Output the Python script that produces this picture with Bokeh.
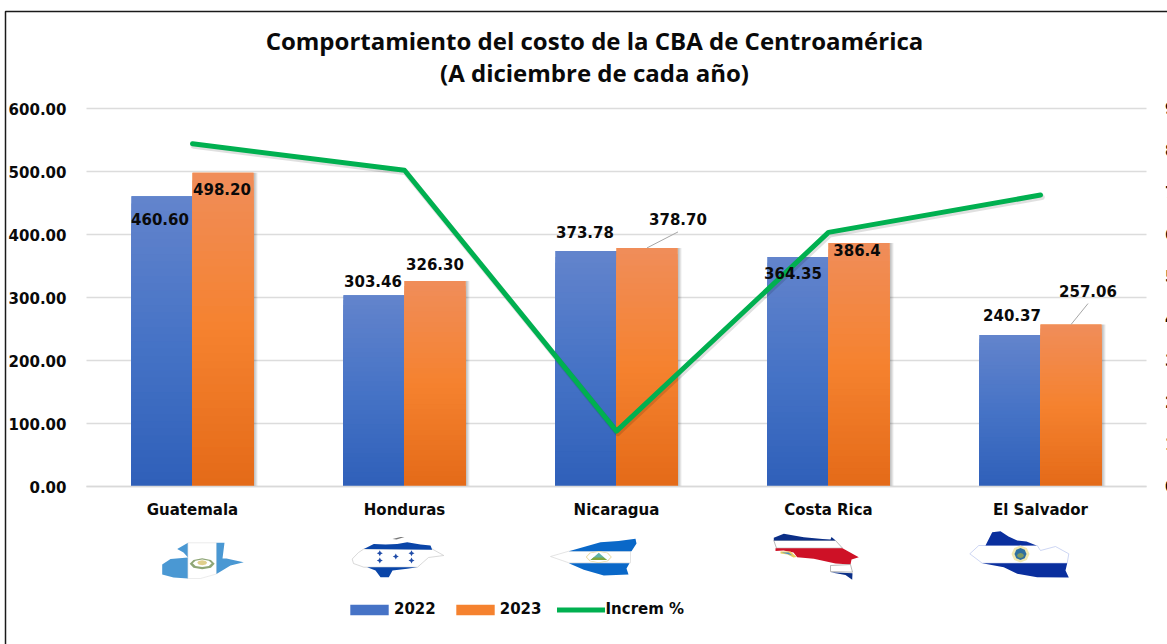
from bokeh.plotting import figure
from bokeh.embed import file_html
from bokeh.resources import INLINE
from bokeh.core.properties import value
from bokeh.models import (ColumnDataSource, Range1d, FixedTicker, NumeralTickFormatter,
                          Label, Legend, LegendItem)

# ---- data ----
countries = ["Guatemala", "Honduras", "Nicaragua", "Costa Rica", "El Salvador"]
v2022 = [460.60, 303.46, 373.78, 364.35, 240.37]
v2023 = [498.20, 326.30, 378.70, 386.40, 257.06]
label2022 = ["460.60", "303.46", "373.78", "364.35", "240.37"]
label2023 = ["498.20", "326.30", "378.70", "386.4", "257.06"]
increm = [8.16, 7.53, 1.32, 6.05, 6.94]
pct_ticks = [0, 1, 2, 3, 4, 5, 6, 7, 8, 9]
pct_labels = ["0.00%", "1.00%", "2.00%", "3.00%", "4.00%", "5.00%", "6.00%", "7.00%", "8.00%", "9.00%"]
usd_ticks = [0, 100, 200, 300, 400, 500, 600]

# ---- layout ----
FONT = "DejaVu Sans"
TITLE_FONT = "Open Sans"
W, H = 1167, 644
PX_X = 1 / 212        # x units per pixel
PX_Y = 600 / 378      # y units per pixel
BAR = 61 / 212
centers = [i + 0.5 for i in range(len(countries))]
# label offsets from the top centre of each bar, in pixels (x right, y down)
dx22 = [-2, -1, -1, -5, 2]
dy22 = [23, -14, -19, 16, -20]
dx23 = [-1, 0, 31, -2, 17]
dy23 = [16, -17, -29, 7, -34]


# page pixel -> data
def dx(x):
    return (x - 86) * PX_X


def dy(y):
    return (486 - y) * PX_Y


p = figure(width=W, height=H, x_range=Range1d(dx(0), dx(W)), y_range=Range1d(dy(H), dy(0)),
           output_backend="svg", toolbar_location=None, tools="",
           min_border=0, outline_line_color=None, background_fill_color="white", border_fill_color="white")
p.extra_y_ranges = {"pct": Range1d(dy(H) * 9 / 600, dy(0) * 9 / 600)}
p.grid.visible = False

# gridlines (drawn first, span the plot area only)
p.segment([0] * len(usd_ticks), usd_ticks, [5] * len(usd_ticks), usd_ticks, line_color="#dcdcdc", line_width=1.5)

p.xaxis.fixed_location = 0
p.xaxis.bounds = (0, 5)
p.xaxis.ticker = FixedTicker(ticks=centers)
p.xaxis.major_label_overrides = {c: n for c, n in zip(centers, countries)}
p.xaxis.major_tick_line_color = None
p.xaxis.minor_tick_line_color = None
p.xaxis.axis_line_color = "#d9d9d9"
p.xaxis.axis_line_width = 1.5
p.xaxis.major_label_standoff = 8
p.xaxis.major_label_text_font = FONT
p.xaxis.major_label_text_font_style = "bold"
p.xaxis.major_label_text_font_size = "15px"
p.xaxis.major_label_text_color = "#0a0a0a"

p.yaxis.fixed_location = 0
p.yaxis.bounds = (0, 600)
p.yaxis.ticker = FixedTicker(ticks=usd_ticks)
p.yaxis.formatter = NumeralTickFormatter(format="0.00")
p.yaxis.major_tick_line_color = None
p.yaxis.minor_tick_line_color = None
p.yaxis.axis_line_color = None
p.yaxis.major_label_standoff = 14
p.yaxis.major_label_text_font = FONT
p.yaxis.major_label_text_font_style = "bold"
p.yaxis.major_label_text_font_size = "15px"
p.yaxis.major_label_text_color = "#0a0a0a"

# right-hand scale: cut by the picture's edge, as in the reference
p.text([5] * len(pct_ticks), pct_ticks, text=pct_labels, y_range_name="pct", x_offset=18.5, text_align="left",
       text_baseline="middle", text_font=value(FONT), text_font_style="bold", text_font_size="15px",
       text_color="#0a0a0a")


def hex2rgb(h):
    return [int(h[i:i + 2], 16) for i in (1, 3, 5)]


def grad(t, stops):
    a, b, c = [hex2rgb(s) for s in stops]
    if t < 0.5:
        m = [a[i] + (b[i] - a[i]) * t * 2 for i in range(3)]
    else:
        m = [b[i] + (c[i] - b[i]) * (t - 0.5) * 2 for i in range(3)]
    return "#%02x%02x%02x" % tuple(int(round(x)) for x in m)


BLUE = ("#6384cc", "#4673c6", "#2f60b9")
ORANGE = ("#f08d5a", "#f5822f", "#e46a18")
STEPS = 40


def bars(vals, left_off, stops):
    lefts = [c + left_off for c in centers]
    rights = [l + BAR for l in lefts]
    for k in range(4):
        p.quad(left=rights, right=[r + (k + 1) * PX_X for r in rights], bottom=0, top=vals,
               fill_color="#000000", fill_alpha=0.07, line_color=None)
    base = p.quad(left=lefts, right=rights, bottom=0, top=vals, fill_color=stops[1], line_color=None)
    for s in range(STEPS):
        t = (s + 0.5) / STEPS
        p.quad(left=lefts, right=rights, top=[v * (1 - s / STEPS) for v in vals], bottom=0,
               fill_color=grad(t, stops), line_color=None)
    return base


r22 = bars(v2022, -BAR, BLUE)
r23 = bars(v2023, 0, ORANGE)

for i in (2, 4):
    p.segment([centers[i] + BAR / 2], [v2023[i]],
              [centers[i] + BAR / 2 + dx23[i] * PX_X], [v2023[i] + (-dy23[i] - 13) * PX_Y],
              line_color="#a6a6a6", line_width=1)

p.line([c + 0.006 for c in centers], [v - 0.05 for v in increm], y_range_name="pct", line_color="#000000",
       line_alpha=0.12, line_width=6, line_cap="round", line_join="round")
rl = p.line(centers, increm, y_range_name="pct", line_color="#00b050", line_width=5,
            line_cap="round", line_join="round")

src = ColumnDataSource(dict(
    x=[c - BAR / 2 for c in centers] + [c + BAR / 2 for c in centers],
    y=v2022 + v2023, t=label2022 + label2023, xo=dx22 + dx23, yo=dy22 + dy23))
p.text("x", "y", text="t", x_offset="xo", y_offset="yo", source=src, text_align="center",
       text_baseline="middle", text_font=value(FONT), text_font_style="bold",
       text_font_size="15px", text_color="#0a0a0a")

for txt, yy in (("Comportamiento del costo de la CBA de Centroamérica", 40), ("(A diciembre de cada año)", 72)):
    p.add_layout(Label(x=dx(594), y=dy(yy), text=txt, text_align="center", text_baseline="middle",
                       text_font=TITLE_FONT, text_font_style="bold", text_font_size="24px", text_color="#0a0a0a"))

# chart border
p.line([dx(5), dx(5), dx(1175)], [dy(650), dy(11), dy(11)], line_color="#1a1a1a", line_width=1.5)

legend = Legend(items=[LegendItem(label="2022", renderers=[r22]), LegendItem(label="2023", renderers=[r23]),
                       LegendItem(label="Increm %", renderers=[rl])],
                orientation="horizontal", location=(345, 26), border_line_color=None,
                background_fill_alpha=0, margin=0, padding=0, spacing=15, label_standoff=1,
                glyph_width=48, glyph_height=13, label_text_font=FONT, label_text_font_style="bold",
                label_text_font_size="15px", label_text_color="#0a0a0a")
p.add_layout(legend, "center")


# ---- flag silhouettes (decoration, page pixels) ----
def poly(pts, fill, line=None, lw=0.7):
    p.patch([dx(a) for a, _ in pts], [dy(b) for _, b in pts], fill_color=fill, line_color=line, line_width=lw)


def blob(cx, cy, rx, ry, fill, line=None):
    u = [(1, 0), (.7, .7), (0, 1), (-.7, .7), (-1, 0), (-.7, -.7), (0, -1), (.7, -.7)]
    poly([(cx + a * rx, cy + b * ry) for a, b in u], fill, line)


def star(cx, cy, fill):
    r = 3
    poly([(cx, cy - r), (cx + 1, cy - 1), (cx + r, cy), (cx + 1, cy + 1), (cx, cy + r), (cx - 1, cy + 1),
          (cx - r, cy), (cx - 1, cy - 1)], fill)


# Guatemala
GB = "#4a98d3"
poly([(161.7, 564), (170, 558.5), (187.5, 557), (187.5, 578), (173, 577), (161.7, 574)], GB)
poly([(176.7, 548.5), (187.5, 542.3), (187.5, 557), (183, 552)], GB)
poly([(187.5, 542.3), (216, 542.3), (216, 573.5), (200, 578), (187.5, 578)], "#ffffff", "#e4e4e4")
poly([(216, 542.3), (224, 542.3), (222, 558), (226, 558), (235, 560), (243.3, 561.7), (230, 565), (216, 573.5)], GB)
blob(201.7, 563.3, 12.5, 5.5, "#8fa676")
blob(201.7, 562.8, 9.5, 3.8, "#ffffff")
blob(201.7, 562.3, 5, 2.5, "#e0cf8c")

# Honduras
HB = "#0a45a8"
poly([(351.7, 558.5), (358, 552), (363.3, 548.5), (431.7, 548.5), (443.3, 555), (428, 557), (417, 566.7), (363.3, 566.7), (353, 563)],
     "#ffffff", "#c9c9c9")
poly([(363.3, 548.5), (373.3, 543.5), (385, 544), (396.7, 543.5), (406.7, 541.7), (420, 544), (430, 545), (431.7, 549.3)], HB)
poly([(366.7, 566.7), (416.7, 566.7), (406.7, 568.3), (392, 570), (388.3, 576.7), (380, 576.7), (375, 570)], HB)
poly([(392, 538.5), (400, 536.5), (404, 536.5), (396, 539)], "#777777")
for a, b in ((379.3, 552.7), (411, 552.7), (395.3, 556), (379.3, 560), (411, 560)):
    star(a, b, "#1f4ba8")

# Nicaragua
NB = "#0a68c8"
poly([(550, 556), (568.3, 550.7), (630, 550.7), (630, 562.3), (568.3, 562.3)], "#ffffff", "#d8d8d8")
poly([(568.3, 550.7), (585, 546), (600, 541.7), (618, 540.5), (635, 538.3), (636, 543), (631, 550.7)], NB)
poly([(568.3, 562.8), (629, 562.8), (626, 568), (628, 574), (603.3, 575), (583.3, 569.3)], NB)
blob(598.3, 556.5, 13, 6, "#e8d9a0")
blob(598.3, 556.5, 12, 5.2, "#ffffff")
poly([(590, 559.5), (606.5, 559.5), (598.3, 552.2)], "#5fb3a8")
poly([(590, 559.5), (606.5, 559.5), (603, 557), (593, 557)], "#7fa63c")

# Costa Rica
poly([(773.3, 540), (835, 540), (842, 547.7), (776, 547.7)], "#ffffff", "#9a9a9a")
poly([(773.3, 537.3), (783.3, 533.3), (803.3, 536.7), (822, 538.5), (830, 539), (831, 536.5), (834, 539), (835, 540), (773.3, 540)], "#0b2f87")
poly([(775, 547.7), (842, 547.7), (858.3, 556.7), (851, 559), (850, 564), (835, 563), (813.3, 558.3), (796.7, 556.7), (793, 552), (783, 550), (775, 550.5)], "#ce1126")
poly([(830, 565), (850, 564), (852, 571.7), (830, 571)], "#ffffff", "#9a9a9a")
poly([(830, 571.7), (852, 572.7), (851.7, 579.3), (845, 574.5)], "#0b2f87")
poly([(780, 551), (790, 551), (796, 556.5), (793, 557), (787, 554), (780, 553)], "#e8d060")
poly([(781, 552), (788, 552), (792, 555), (787, 553.5)], "#4a8fd0")

# El Salvador
SB = "#0a2f9e"
poly([(969.3, 553.3), (978.3, 545), (1036.7, 545), (1040, 550), (1055, 546), (1068.3, 553.3), (1066.7, 562.7), (981.7, 562.7)],
     "#ffffff", "#b8c4ee")
poly([(985, 545), (991.7, 531.7), (1000, 530.7), (1008, 536), (1016.7, 540), (1026, 541), (1036, 545)], SB)
poly([(981.7, 562.7), (1066.7, 562.7), (1065, 570), (1068.3, 577), (1036.7, 576.7), (1016.7, 573.3), (1003.3, 566.7)], SB)
blob(1020, 553.5, 9, 8.5, "#f3e9b0")
blob(1020, 553.5, 6, 6, "#2f6f9f")
blob(1020, 555, 3.5, 2.5, "#7f9a62")

open("out.html", "w").write(file_html(p, INLINE))
